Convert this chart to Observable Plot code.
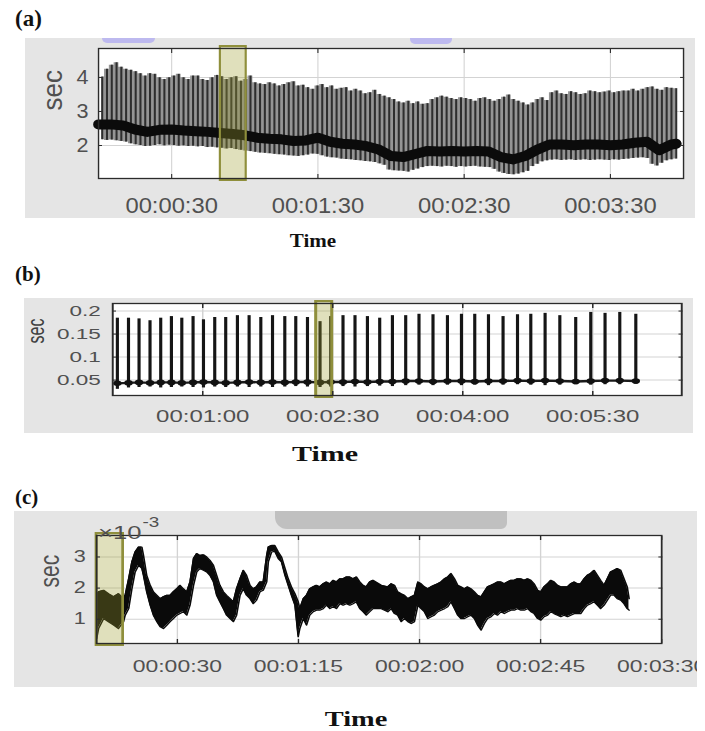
<!DOCTYPE html>
<html><head><meta charset="utf-8">
<script src="https://cdn.jsdelivr.net/npm/d3@7"></script>
<script src="https://cdn.jsdelivr.net/npm/@observablehq/plot@0.6"></script>
<style>
 html,body{margin:0;padding:0;background:#fff;}
 #page{position:relative;width:705px;height:731px;overflow:hidden;background:#fff;}
 .pl{position:absolute;font-family:"Liberation Serif","Times New Roman",serif;font-weight:bold;color:#111;white-space:nowrap;line-height:1;}
 .xt{position:absolute;width:200px;text-align:center;font-family:"Liberation Serif","Times New Roman",serif;font-weight:bold;color:#111;line-height:1;white-space:nowrap;}
 .deco{position:absolute;}
</style></head><body><div id="page"></div>
<script>
// ---------- Panel (a) data ----------
const aSpikeStart = 1.5, aSpikeStep = 1.9625; // spike sampling grid (s)
const aSpikeTop = [4.01,4.24,4.36,4.43,4.30,4.24,4.21,4.17,4.11,4.04,
 4.11,4.09,3.99,3.94,3.99,4.04,4.09,3.99,3.94,4.04,
 4.04,3.94,3.91,3.99,4.06,4.02,3.94,3.99,4.02,3.89,
 3.94,4.04,3.84,3.81,3.79,3.84,3.81,3.75,3.79,3.84,
 3.87,3.75,3.77,3.70,3.65,3.75,3.79,3.70,3.75,3.65,
 3.68,3.70,3.60,3.65,3.60,3.52,3.55,3.62,3.50,3.45,
 3.40,3.35,
 3.28,3.25,3.30,3.23,3.28,3.21,3.23,3.35,3.40,3.45,
 3.42,3.38,3.35,3.40,3.38,3.35,3.30,3.38,3.40,3.35,
 3.30,3.35,3.42,3.48,3.35,3.30,3.25,3.19,3.25,3.35,
 3.40,3.32,3.55,3.60,3.52,3.50,3.58,3.55,3.50,3.52,
 3.60,3.58,3.55,3.57,3.60,3.55,3.58,3.60,3.60,3.65,
 3.60,3.65,3.70,3.72,3.65,3.62,3.70,3.68,3.67];
const aSpikeLow = [2.17,2.15,2.16,2.14,2.12,2.10,2.05,2.02,2.00,1.97,
 1.98,2.00,2.02,1.99,2.01,2.00,1.98,1.99,1.97,1.98,
 1.96,1.97,1.94,1.95,1.93,1.92,1.90,1.91,1.88,1.86,
 1.84,1.82,1.80,1.78,1.77,1.76,1.74,1.73,1.72,1.70,
 1.69,1.68,1.70,1.72,1.75,1.74,1.70,1.66,1.64,1.63,
 1.60,1.59,1.58,1.56,1.55,1.53,1.52,1.50,1.46,1.42,
 1.28,1.26,1.25,1.24,1.22,1.27,1.31,1.35,1.38,1.39,
 1.38,1.37,1.39,1.38,1.36,1.38,1.37,1.38,1.39,1.37,
 1.36,1.35,1.30,1.22,1.18,1.15,1.14,1.16,1.20,1.24,
 1.38,1.45,1.52,1.55,1.57,1.58,1.56,1.57,1.58,1.56,
 1.57,1.58,1.56,1.57,1.58,1.57,1.56,1.58,1.57,1.59,
 1.60,1.62,1.63,1.64,1.62,1.45,1.40,1.48,1.55,1.58,1.60];
const aBaseTime = [0,5,10,15,20,25,30,35,40,45,50,55,60,65,70,75,80,85,90,95,100,105,110,115,120,125,130,135,140,145,150,155,160,165,170,175,180,185,190,195,200,205,210,215,220,225,230,235,237];
const aBaseVal = [2.62,2.62,2.59,2.47,2.40,2.46,2.47,2.44,2.42,2.40,2.37,2.34,2.30,2.23,2.20,2.18,2.13,2.15,2.23,2.11,2.05,2.03,1.98,1.88,1.69,1.66,1.75,1.84,1.82,1.84,1.82,1.84,1.82,1.66,1.59,1.69,1.88,2.03,2.03,2.01,2.03,2.03,2.01,2.03,2.08,2.11,1.86,2.03,2.05];
const aTickSec = [30, 90, 150, 210];
const aTickLabels = ["00:00:30", "00:01:30", "00:02:30", "00:03:30"];
const aYTicks = [2, 3, 4];
const aYLabels = ["2", "3", "4"];
const aHighlight = [50, 60.6];

// ---------- Panel (b) data ----------
const bBeatTime = [0.9,8.6,15.9,23.5,30.9,38.3,45.5,53.3,60.5,68.3,75.9,84.0,92.1,100.2,108.3,116.8,124.4,132.5,141.2,148.6,157.1,165.4,174.0,182.5,191.3,200.5,209.7,219.4,229.4,239.1,248.3,257.8,267.9,277.9,287.1,297.0,307.2,318.2,328.6,338.5,348.7,359.8];
const bBeatTop = [0.1845,0.1845,0.183,0.179,0.1845,0.188,0.1845,0.188,0.181,0.186,0.186,0.190,0.190,0.186,0.190,0.188,0.188,0.186,0.177,0.188,0.190,0.190,0.188,0.1845,0.190,
 0.190,0.193,0.192,0.190,0.193,0.193,0.192,0.188,0.192,0.193,0.195,0.190,0.186,0.197,0.195,0.197,0.193];
const bBeatBase = [0.043,0.044,0.045,0.044,0.045,0.045,0.044,0.045,0.046,0.045,0.044,0.045,0.046,0.045,0.046,0.045,0.046,0.046,0.045,0.046,0.046,0.047,0.046,0.047,0.047,
 0.048,0.048,0.047,0.048,0.048,0.047,0.048,0.048,0.049,0.048,0.049,0.048,0.047,0.048,0.049,0.049,0.048];
const bBeatDip = [0.030,0.033,0.034,0.035,0.033,0.034,0.035,0.034,0.033,0.035,0.034,0.035,0.034,0.035,0.034,0.035,0.036,0.035,0.034,0.035,0.036,0.035,0.036,0.037,0.036,
 0.038,0.039,0.038,0.039,0.038,0.039,0.038,0.039,0.040,0.039,0.038,0.039,0.040,0.039,0.040,0.040,0.041];
const bTickSec = [60, 150, 240, 330];
const bTickLabels = ["00:01:00", "00:02:30", "00:04:00", "00:05:30"];
const bYTicks = [0.05, 0.1, 0.15, 0.2];
const bYLabels = ["0.05", "0.1", "0.15", "0.2"];
const bHighlight = [138.7, 149.8];

// ---------- Panel (c) data (units of 1e-3 s) ----------
const cTime = [0,0.7,2.6,4.4,6.3,8.1,10.0,10.6,11.9,13.1,14.3,15.6,16.8,17.4,18.6,19.9,21.1,22.4,23.6,24.8,26.1,27.3,28.5,29.8,31.0,32.2,33.5,34.7,36.0,37.2,38.4,39.7,40.9,42.1,43.4,44.6,45.8,47.1,48.3,49.6,50.8,52.0,53.3,54.5,55.7,57.0,58.2,59.4,60.7,61.9,63.2,63.8,65.0,66.2,67.5,68.7,70.0,71.2,72.4,73.7,74.9,75.5,76.8,78.0,79.2,80.5,81.7,82.9,84.2,85.4,86.7,87.9,89.1,90.4,91.6,92.8,94.1,95.3,96.5,97.8,99.0,100.2,101.5,102.7,
 105.8,108.2,109.5,110.7,111.9,113.2,114.4,115.7,116.9,118.1,119.4,120.6,121.8,123.1,124.3,125.5,126.8,128.0,129.3,130.5,131.7,133.0,134.2,135.4,136.7,137.9,139.1,140.4,141.6,142.9,144.1,145.3,146.6,147.8,149.0,150.3,151.5,152.7,154.0,155.2,156.4,157.7,158.9,160.2,161.4,162.6,163.9,165.1,166.3,167.6,168.8,170.0,171.3,172.5,173.7,175.0,176.2,177.5,178.7,179.9,181.2,182.4,183.6,184.9,186.1,187.3,188.6,189.8,191.0,192.3,193.5,194.8,196.0,197.2,197.9];
const cHigh = [1.77,1.88,1.93,1.82,1.72,1.82,1.66,1.77,2.30,2.84,3.16,3.32,3.32,3.05,2.41,2.09,1.88,1.77,1.66,1.72,1.77,1.77,1.88,1.98,2.09,1.98,1.88,2.20,2.95,3.11,3.05,3.07,3.00,2.89,2.73,2.41,2.09,1.88,1.77,1.66,1.56,1.98,2.30,2.57,2.41,2.09,1.98,2.04,2.20,2.20,3.05,3.32,3.37,3.37,3.16,3.00,2.63,2.30,2.04,1.82,1.56,1.34,1.66,1.77,1.98,2.04,2.09,2.04,2.14,2.20,2.14,2.25,2.20,2.30,2.30,2.36,2.36,2.30,2.36,2.20,2.09,2.04,2.20,2.25,
 2.09,2.04,2.14,2.09,1.88,1.82,1.77,1.66,1.72,1.77,2.20,2.14,2.04,1.98,2.04,2.09,2.14,2.20,2.30,2.36,2.47,2.30,2.09,2.04,1.98,2.04,1.98,1.88,1.77,1.72,1.88,2.04,2.09,2.14,2.20,2.20,2.14,2.20,2.25,2.25,2.30,2.30,2.25,2.30,2.25,2.14,1.93,1.88,2.04,2.14,2.25,2.20,2.09,2.04,2.04,2.04,2.14,2.20,2.14,2.14,2.30,2.41,2.47,2.57,2.41,2.25,2.09,2.30,2.52,2.57,2.63,2.57,2.30,2.04,1.66];
const cLow = [0.38,0.70,1.02,0.92,0.81,0.70,0.92,1.13,1.34,1.98,2.52,2.73,2.63,2.41,1.88,1.45,1.13,0.92,0.76,0.70,0.81,0.92,1.02,1.13,1.18,1.24,1.13,1.45,2.09,2.52,2.63,2.57,2.52,2.41,2.20,1.77,1.56,1.34,1.13,1.02,0.92,1.13,1.77,1.98,1.77,1.66,1.50,1.61,1.88,1.93,2.20,2.84,3.16,3.18,2.95,2.84,2.41,2.09,1.77,1.45,0.44,0.70,1.02,0.81,1.13,1.24,1.29,1.29,1.34,1.45,1.34,1.40,1.34,1.50,1.45,1.50,1.45,1.50,1.56,1.34,1.24,1.13,1.24,1.34,
 1.34,1.24,1.34,1.18,1.13,0.92,1.02,0.92,0.86,0.92,1.45,1.34,1.24,1.02,1.08,1.13,1.24,1.29,1.34,1.40,1.56,1.34,1.13,1.02,1.02,1.08,1.13,1.02,0.81,0.65,0.86,1.02,1.08,1.18,1.13,1.24,1.18,1.24,1.29,1.29,1.34,1.29,1.29,1.34,1.24,1.18,1.02,0.97,1.08,1.13,1.24,1.18,1.13,1.08,1.13,1.08,1.13,1.18,1.18,1.18,1.34,1.45,1.50,1.56,1.45,1.34,1.45,1.61,1.77,1.77,1.66,1.61,1.50,1.34,1.29];
const cTickSec = [30, 75, 120, 165, 210];
const cTickLabels = ["00:00:30", "00:01:15", "00:02:00", "00:02:45", "00:03:30"];
const cYTicks = [1, 2, 3];
const cYLabels = ["1", "2", "3"];
const cExponent = ["×10", "-3"];
const cHighlight = [0, 9.9];

const panelLetters = ["(a)", "(b)", "(c)"];
const axisTitleX = "Time";
const axisTitleY = "sec";

// ---------- helpers ----------
const page = document.getElementById("page");
const GRID = "#d3d3d3", FRAME = "#2b2b2b", TXT = "#505050", BG = "#e5e5e5";
const FONT = "'Liberation Sans', Arial, Helvetica, sans-serif";
function fmt(ticks, labels) { return d => labels[ticks.indexOf(d)]; }
function mount(svg, left, top, w, h, clip) {
  svg.setAttribute("preserveAspectRatio", "none");
  svg.setAttribute("width", w);
  svg.setAttribute("height", h);
  Object.assign(svg.style, {position: "absolute", left: left + "px", top: top + "px",
    width: w + "px", height: h + "px", maxWidth: "none", overflow: clip ? "hidden" : "visible"});
  page.appendChild(svg);
}
function frameMarks(xt, yt, s) {
  return [
    Plot.axisX({ticks: xt, anchor: "bottom", tickSize: -4, tickFormat: () => "", label: null, color: FRAME}),
    Plot.axisX({ticks: xt, anchor: "top", tickSize: -4, tickFormat: () => "", label: null, color: FRAME}),
    Plot.axisY({ticks: yt, anchor: "left", tickSize: -4 / s, tickFormat: () => "", label: null, color: FRAME}),
    Plot.axisY({ticks: yt, anchor: "right", tickSize: -4 / s, tickFormat: () => "", label: null, color: FRAME}),
    Plot.frame({stroke: FRAME, strokeWidth: 1.3})
  ];
}
function highlight(range) {
  return Plot.rect([range], {x1: d => d[0], x2: d => d[1], insetTop: -2, insetBottom: -2,
    fill: "#a0a02f", fillOpacity: 0.32, stroke: "#8f8f3c", strokeWidth: 2});
}

// ---------- Panel (a) ----------
const sA = 1.08;
const aSpikes = aSpikeTop.map((top, i) => ({t: aSpikeStart + i * aSpikeStep, top, low: aSpikeLow[i]}));
const aBase = aBaseTime.map((t, i) => ({t, v: aBaseVal[i]}));
const plotA = Plot.plot({
  width: 670 / sA, height: 180,
  marginLeft: 73 / sA, marginRight: 12 / sA, marginTop: 10, marginBottom: 40,
  style: {background: BG, color: TXT, fontFamily: FONT},
  x: {domain: [0, 240], label: null},
  y: {domain: [1.03, 4.85], label: null},
  marks: [
    Plot.frame({fill: "white", stroke: "none"}),
    Plot.gridX({ticks: aTickSec, stroke: GRID, strokeOpacity: 1}),
    Plot.gridY({ticks: aYTicks, stroke: GRID, strokeOpacity: 1}),
    Plot.areaY(aSpikes, {x: "t", y1: "low", y2: "top", curve: "step", fill: "#959595"}),
    Plot.ruleX(aSpikes, {x: "t", y1: "low", y2: "top", stroke: "#2e2e2e", strokeWidth: 1.9}),
    Plot.line(aBase, {x: "t", y: "v", stroke: "#0b0b0b", strokeWidth: 10, strokeLinejoin: "round"}),
    highlight(aHighlight),
    ...frameMarks(aTickSec, aYTicks, sA),
    Plot.axisX({ticks: aTickSec, tickSize: 0, tickPadding: 19, tickFormat: fmt(aTickSec, aTickLabels), fontSize: 22, label: null}),
    Plot.axisY({ticks: aYTicks, tickSize: 0, tickPadding: 10 / sA, tickFormat: fmt(aYTicks, aYLabels), fontSize: 20, label: null}),
    Plot.text([axisTitleY], {text: d => d, frameAnchor: "left", rotate: -90, dx: -46 / sA, dy: -3, fontSize: 26, fill: TXT})
  ]
});
mount(plotA, 25, 38, 670, 180, false);

// ---------- Panel (b) ----------
const sB = 1.5;
const bBeats = bBeatTime.map((t, i) => ({t, top: bBeatTop[i], base: bBeatBase[i], dip: bBeatDip[i]}));
const plotB = Plot.plot({
  width: 669 / sB, height: 135,
  marginLeft: 88 / sB, marginRight: 12 / sB, marginTop: 5, marginBottom: 38,
  style: {background: BG, color: TXT, fontFamily: FONT},
  x: {domain: [-2.3, 391.6], label: null},
  y: {domain: [0.0166, 0.2164], label: null},
  marks: [
    Plot.frame({fill: "white", stroke: "none"}),
    Plot.gridX({ticks: bTickSec, stroke: GRID, strokeOpacity: 1}),
    Plot.gridY({ticks: bYTicks, stroke: GRID, strokeOpacity: 1}),
    Plot.line(bBeats, {x: "t", y: "base", stroke: "#1a1a1a", strokeWidth: 2.4}),
    Plot.ruleX(bBeats, {x: "t", y1: "dip", y2: "top", stroke: "#151515", strokeWidth: 2.1}),
    Plot.dot(bBeats, {x: "t", y: "base", r: 2.8, fill: "#111", stroke: "none"}),
    highlight(bHighlight),
    ...frameMarks(bTickSec, bYTicks, sB),
    Plot.axisX({ticks: bTickSec, tickSize: 0, tickPadding: 15, tickFormat: fmt(bTickSec, bTickLabels), fontSize: 16, label: null}),
    Plot.axisY({ticks: bYTicks, tickSize: 0, tickPadding: 12 / sB, tickFormat: fmt(bYTicks, bYLabels), fontSize: 15, label: null}),
    Plot.text([axisTitleY], {text: d => d, frameAnchor: "left", rotate: -90, dx: -76 / sB, dy: -6, fontSize: 16, fill: "#404040"})
  ]
});
mount(plotB, 24, 298, 669, 135, false);

// ---------- Panel (c) ----------
const sC = 1.35;
const cData = cTime.map((t, i) => ({t, hi: cHigh[i], lo: cLow[i]}));
const plotC = Plot.plot({
  width: 683 / sC, height: 176,
  marginLeft: 82 / sC, marginRight: 36 / sC, marginTop: 24, marginBottom: 44,
  style: {background: BG, color: TXT, fontFamily: FONT},
  x: {domain: [0, 210], label: null},
  y: {domain: [0.22, 3.69], label: null},
  marks: [
    Plot.frame({fill: "white", stroke: "none"}),
    Plot.gridX({ticks: cTickSec, stroke: GRID, strokeOpacity: 1}),
    Plot.gridY({ticks: cYTicks, stroke: GRID, strokeOpacity: 1}),
    Plot.areaY(cData, {x: "t", y1: "lo", y2: "hi", fill: "#0a0a0a"}),
    Plot.line(cData, {x: "t", y: "hi", stroke: "#0a0a0a", strokeWidth: 1.2}),
    Plot.line(cData, {x: "t", y: "lo", stroke: "#0a0a0a", strokeWidth: 1.2}),
    highlight(cHighlight),
    ...frameMarks(cTickSec, cYTicks, sC),
    Plot.axisX({ticks: cTickSec, tickSize: 0, tickPadding: 16, tickFormat: fmt(cTickSec, cTickLabels), fontSize: 17, label: null}),
    Plot.axisY({ticks: cYTicks, tickSize: 0, tickPadding: 11 / sC, tickFormat: fmt(cYTicks, cYLabels), fontSize: 16, label: null}),
    Plot.text([cExponent[0]], {text: d => d, frameAnchor: "top-left", textAnchor: "start", dx: 1, dy: -10, fontSize: 19, fill: TXT}),
    Plot.text([cExponent[1]], {text: d => d, frameAnchor: "top-left", textAnchor: "start", dx: 34, dy: -18, fontSize: 14, fill: TXT}),
    Plot.text([axisTitleY], {text: d => d, frameAnchor: "left", rotate: -90, dx: -47 / sC, dy: -2, fontSize: 21, fill: TXT})
  ]
});
mount(plotC, 14, 511, 683, 176, true);

// ---------- decorations & titles ----------
function div(cls, css, text) {
  const d = document.createElement("div");
  d.className = cls;
  d.style.cssText = css;
  if (text != null) d.textContent = text;
  page.appendChild(d);
  return d;
}
div("deco", "left:102px;top:38px;width:53px;height:5px;background:#bdb9ef;border-radius:0 0 5px 5px;");
div("deco", "left:410px;top:38px;width:42px;height:6px;background:#bdb9ef;border-radius:0 0 5px 5px;");
div("deco", "left:275px;top:511px;width:232px;height:18px;background:#c0c0c0;border-radius:0 0 6px 12px;");

div("pl", "left:15px;top:7px;font-size:23px;", panelLetters[0]);
div("pl", "left:15px;top:264px;font-size:21px;", panelLetters[1]);
div("pl", "left:15px;top:487px;font-size:21px;", panelLetters[2]);

div("xt", "left:213px;top:232px;font-size:18px;transform:scaleX(1.17);", axisTitleX);
div("xt", "left:225px;top:444px;font-size:20px;transform:scaleX(1.5);", axisTitleX);
div("xt", "left:256px;top:708px;font-size:22px;transform:scaleX(1.29);", axisTitleX);
</script></body></html>
